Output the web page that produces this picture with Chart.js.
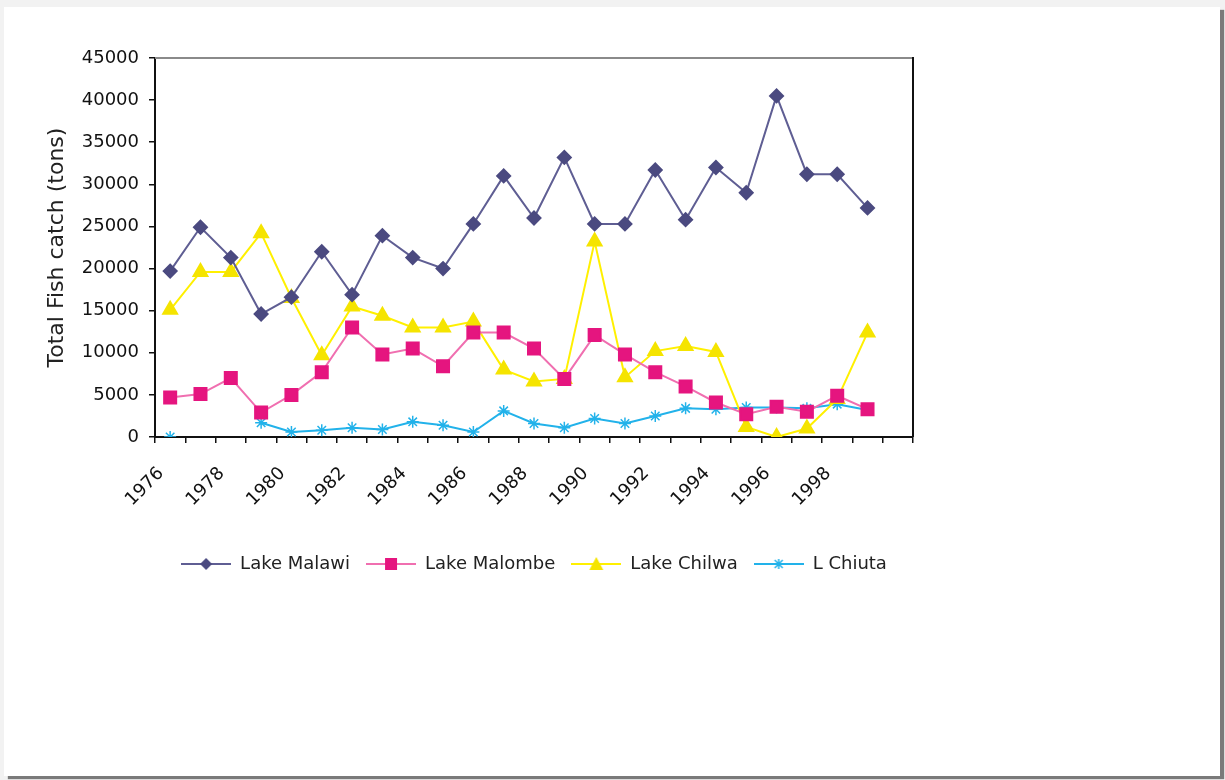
<!DOCTYPE html>
<html>
<head>
<meta charset="utf-8">
<script src="https://cdn.jsdelivr.net/npm/chart.js@4/dist/chart.umd.min.js"></script>
<style>
  body { margin: 0; background: #f2f2f2; width: 1225px; height: 780px; overflow: hidden; }
  #page { position: absolute; left: 4px; top: 7px; width: 1216px; height: 769px; background: #fff; box-shadow: 4px 3px 1px #7a7a7a; }
</style>
</head>
<body>
<div id="page"><canvas id="fish"></canvas></div>
<script>
const years = ['1976', '1977', '1978', '1979', '1980', '1981', '1982', '1983', '1984', '1985', '1986', '1987',
               '1988', '1989', '1990', '1991', '1992', '1993', '1994', '1995', '1996', '1997', '1998', '1999', ''];
const lake_malawi = [19700, 24900, 21300, 14600, 16600, 22000, 16900, 23900, 21300, 20000, 25300, 31000,
                     26000, 33200, 25300, 25300, 31700, 25800, 32000, 29000, 40500, 31200, 31200, 27200, null];
const lake_malombe = [4700, 5100, 7000, 2900, 5000, 7700, 13000, 9800, 10500, 8400, 12400, 12400,
                      10500, 6900, 12100, 9800, 7700, 6000, 4100, 2700, 3600, 3000, 4900, 3300, null];
const lake_chilwa = [15100, 19600, 19600, 24200, 16500, 9700, 15500, 14400, 13000, 13000, 13700, 8000,
                     6600, 6900, 23200, 7100, 10200, 10800, 10100, 1200, 0, 1000, 4500, 12400, null];
const l_chiuta = [0, null, null, 1700, 600, 800, 1100, 900, 1800, 1400, 600, 3100,
                  1600, 1100, 2200, 1600, 2500, 3400, 3300, 3500, 3500, 3400, 3900, 3200, null];
const y_ticks = [0, 5000, 10000, 15000, 20000, 25000, 30000, 35000, 40000, 45000];

const font_family = "'DejaVu Sans', sans-serif";

// small line + marker pictures for the legend
function legend_icon(line_color, marker_color, shape) {
    const c = document.createElement('canvas');
    c.width = 50;
    c.height = 18;
    const ctx = c.getContext('2d');
    ctx.strokeStyle = line_color;
    ctx.lineWidth = 2;
    ctx.beginPath();
    ctx.moveTo(0, 9);
    ctx.lineTo(50, 9);
    ctx.stroke();
    ctx.fillStyle = marker_color;
    ctx.strokeStyle = marker_color;
    ctx.beginPath();
    if (shape === 'diamond') {
        ctx.moveTo(25, 3); ctx.lineTo(31, 9); ctx.lineTo(25, 15); ctx.lineTo(19, 9);
        ctx.closePath(); ctx.fill();
    } else if (shape === 'square') {
        ctx.rect(19, 3, 12, 12); ctx.fill();
    } else if (shape === 'triangle') {
        ctx.moveTo(25, 2); ctx.lineTo(32, 15); ctx.lineTo(18, 15);
        ctx.closePath(); ctx.fill();
    } else {
        ctx.lineWidth = 1.5;
        ctx.moveTo(21, 5); ctx.lineTo(29, 13);
        ctx.moveTo(29, 5); ctx.lineTo(21, 13);
        ctx.moveTo(25, 4); ctx.lineTo(25, 14);
        ctx.stroke();
    }
    return c;
}

const icons = [
    legend_icon('#5f5e93', '#4b4a80', 'diamond'),
    legend_icon('#f06fb0', '#e5157f', 'square'),
    legend_icon('#fff000', '#f5e400', 'triangle'),
    legend_icon('#22b2ea', '#22b2ea', 'star')
];

const plot_frame = {
    id: 'plot_frame',
    afterDraw(chart) {
        const { ctx, chartArea } = chart;
        ctx.save();
        ctx.lineWidth = 2;
        ctx.strokeStyle = '#8a8a8a';
        ctx.beginPath();
        ctx.moveTo(chartArea.left, chartArea.top);
        ctx.lineTo(chartArea.right, chartArea.top);
        ctx.stroke();
        ctx.strokeStyle = '#111';
        ctx.beginPath();
        ctx.moveTo(chartArea.right, chartArea.top - 1);
        ctx.lineTo(chartArea.right, chartArea.bottom);
        ctx.stroke();
        ctx.restore();
    }
};

new Chart('fish', {
    type: 'line',
    data: {
        labels: years,
        datasets: [
            {
                label: 'Lake Malawi', data: lake_malawi,
                borderColor: '#5f5e93', backgroundColor: '#4b4a80', borderWidth: 2,
                pointStyle: 'rectRot', pointRadius: 6.5, pointBackgroundColor: '#4b4a80', pointBorderColor: '#4b4a80'
            },
            {
                label: 'Lake Malombe', data: lake_malombe,
                borderColor: '#f06fb0', backgroundColor: '#e5157f', borderWidth: 2,
                pointStyle: 'rect', pointRadius: 8.5, pointBackgroundColor: '#e5157f', pointBorderColor: '#e5157f'
            },
            {
                label: 'Lake Chilwa', data: lake_chilwa,
                borderColor: '#fff000', backgroundColor: '#f5e400', borderWidth: 2,
                pointStyle: 'triangle', pointRadius: 8, pointBackgroundColor: '#f5e400', pointBorderColor: '#f5e400'
            },
            {
                label: 'L Chiuta', data: l_chiuta,
                borderColor: '#22b2ea', backgroundColor: '#22b2ea', borderWidth: 2,
                pointStyle: 'star', pointRadius: 6, pointBorderWidth: 1.5, pointBorderColor: '#22b2ea'
            }
        ]
    },
    options: {
        animation: false,
        responsive: true,
        maintainAspectRatio: false,
        spanGaps: false,
        layout: {
            padding: { left: 38, top: 51, right: 307, bottom: 193 }
        },
        scales: {
            x: {
                offset: true,
                afterFit: (scale) => { scale.height = 102; },
                border: { color: '#111', width: 2 },
                grid: { offset: true, drawOnChartArea: false, color: '#111', tickLength: 6, lineWidth: 1.5 },
                ticks: {
                    autoSkip: false,
                    minRotation: 45,
                    maxRotation: 45,
                    padding: 20,
                    labelOffset: -9,
                    color: '#111',
                    font: { family: font_family, size: 18 },
                    callback: (value, index) => (index % 2 === 0 ? years[index] : '')
                }
            },
            y: {
                min: 0,
                max: 45000,
                afterFit: (scale) => { scale.width = 113; },
                afterBuildTicks: (scale) => { scale.ticks = y_ticks.map((v) => ({ value: v })); },
                border: { color: '#111', width: 2 },
                grid: { drawOnChartArea: false, color: '#111', tickLength: 6, lineWidth: 1.5 },
                ticks: {
                    padding: 10,
                    color: '#111',
                    font: { family: font_family, size: 18 },
                    callback: (value) => String(value)
                },
                title: {
                    display: true,
                    text: 'Total Fish catch (tons)',
                    color: '#222',
                    padding: 2,
                    font: { family: font_family, size: 22 }
                }
            }
        },
        plugins: {
            legend: {
                position: 'bottom',
                fullSize: false,
                labels: {
                    usePointStyle: true,
                    pointStyleWidth: 50,
                    padding: 16,
                    color: '#222',
                    font: { family: font_family, size: 18 },
                    generateLabels: (chart) => {
                        const items = Chart.defaults.plugins.legend.labels.generateLabels(chart);
                        items.forEach((item, i) => { item.pointStyle = icons[i]; });
                        return items;
                    }
                }
            },
            tooltip: { enabled: false }
        }
    },
    plugins: [plot_frame]
});
</script>
</body>
</html>
